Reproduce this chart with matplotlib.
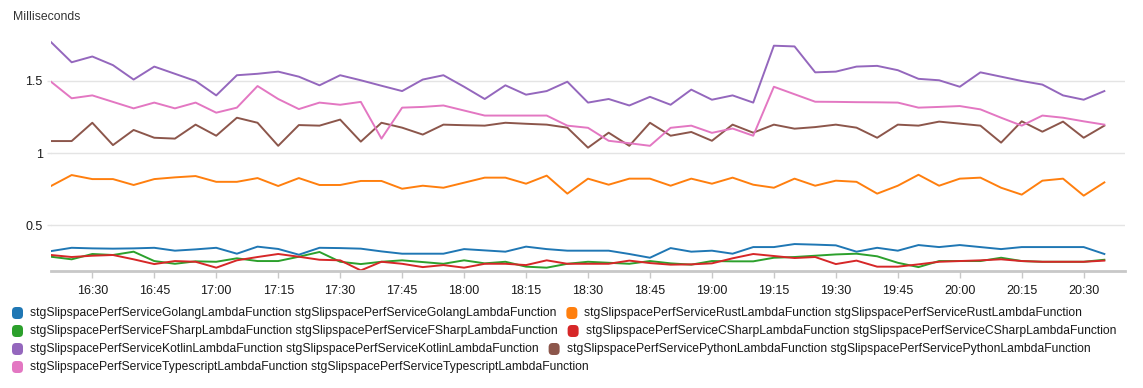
import matplotlib
matplotlib.use('Agg')
import matplotlib.pyplot as plt
import matplotlib.dates as mdates
from matplotlib.patches import FancyBboxPatch
from matplotlib.transforms import IdentityTransform
import pandas as pd

# 5 minute samples, 16:20 -> 20:35
times = pd.date_range('2021-01-01 16:20', periods=52, freq='5min')

golang = [0.319, 0.342, 0.338, 0.336, 0.338, 0.342, 0.322, 0.331, 0.342, 0.301,
          0.350, 0.334, 0.294, 0.342, 0.340, 0.336, 0.317, 0.301, 0.301, 0.301,
          0.333, 0.324, 0.315, 0.350, 0.333, 0.322, 0.322, 0.322, 0.299, 0.273,
          0.340, 0.315, 0.322, 0.301, 0.347, 0.347, 0.368, 0.364, 0.359, 0.315,
          0.342, 0.322, 0.361, 0.347, 0.361, 0.347, 0.333, 0.347, 0.347, 0.347,
          0.347, 0.299]
rust = [0.771, 0.847, 0.819, 0.819, 0.778, 0.819, 0.831, 0.840, 0.800, 0.800,
        0.826, 0.771, 0.826, 0.778, 0.778, 0.806, 0.806, 0.752, 0.773, 0.759,
        0.794, 0.829, 0.829, 0.787, 0.843, 0.718, 0.822, 0.780, 0.822, 0.822,
        0.773, 0.822, 0.787, 0.829, 0.780, 0.759, 0.822, 0.773, 0.808, 0.800,
        0.718, 0.773, 0.849, 0.773, 0.822, 0.829, 0.759, 0.711, 0.808, 0.822,
        0.704, 0.796]
fsharp = [0.280, 0.262, 0.299, 0.292, 0.315, 0.250, 0.231, 0.248, 0.245, 0.269,
          0.250, 0.250, 0.280, 0.313, 0.245, 0.229, 0.245, 0.255, 0.243, 0.231,
          0.255, 0.234, 0.245, 0.211, 0.204, 0.231, 0.245, 0.238, 0.231, 0.250,
          0.234, 0.225, 0.250, 0.248, 0.248, 0.273, 0.278, 0.287, 0.296, 0.301,
          0.283, 0.238, 0.208, 0.250, 0.250, 0.250, 0.273, 0.250, 0.245, 0.245,
          0.245, 0.259]
csharp = [0.292, 0.278, 0.287, 0.292, 0.262, 0.229, 0.250, 0.245, 0.204, 0.255,
          0.278, 0.299, 0.280, 0.259, 0.255, 0.185, 0.245, 0.231, 0.208, 0.222,
          0.204, 0.231, 0.231, 0.222, 0.255, 0.231, 0.231, 0.231, 0.253, 0.236,
          0.225, 0.227, 0.234, 0.269, 0.299, 0.285, 0.271, 0.278, 0.229, 0.253,
          0.211, 0.211, 0.227, 0.245, 0.250, 0.255, 0.262, 0.250, 0.245, 0.245,
          0.245, 0.253]
kotlin = [1.77, 1.63, 1.67, 1.61, 1.51, 1.60, 1.55, 1.50, 1.40, 1.54,
          1.55, 1.565, 1.53, 1.47, 1.54, 1.505, 1.467, 1.43, 1.51, 1.54,
          1.46, 1.375, 1.47, 1.405, 1.43, 1.495, 1.35, 1.375, 1.33, 1.39,
          1.335, 1.44, 1.37, 1.40, 1.35, 1.745, 1.74, 1.56, 1.565, 1.60,
          1.605, 1.575, 1.515, 1.505, 1.46, 1.56, 1.53, 1.50, 1.475, 1.40,
          1.37, 1.43]
python = [1.083, 1.083, 1.21, 1.055, 1.16, 1.106, 1.10, 1.197, 1.12, 1.245,
          1.21, 1.05, 1.194, 1.19, 1.232, 1.079, 1.21, 1.176, 1.128, 1.197,
          1.193, 1.19, 1.21, 1.203, 1.197, 1.176, 1.037, 1.141, 1.05, 1.21,
          1.12, 1.146, 1.085, 1.197, 1.141, 1.197, 1.169, 1.18, 1.197, 1.176,
          1.106, 1.197, 1.19, 1.218, 1.204, 1.19, 1.072, 1.22, 1.148, 1.218,
          1.106, 1.19]
typescript = [1.495, 1.38, 1.40, 1.355, 1.31, 1.35, 1.31, 1.35, 1.28, 1.315,
              1.465, 1.375, 1.305, 1.35, 1.335, 1.355, 1.10, 1.315, 1.32, 1.33,
              1.295, 1.26, 1.26, 1.26, 1.26, 1.19, 1.175, 1.085, 1.068, 1.05,
              1.175, 1.19, 1.14, 1.17, 1.12, 1.46, 1.408, 1.356, 1.355, 1.353,
              1.352, 1.35, 1.315, 1.32, 1.326, 1.303, 1.245, 1.19, 1.26, 1.245,
              1.22, 1.197]

names = ['Golang', 'Rust', 'FSharp', 'CSharp', 'Kotlin', 'Python', 'Typescript']
colors = ['#1f77b4', '#ff7f0e', '#2ca02c', '#d62728', '#9467bd', '#8c564b', '#e377c2']
values = [golang, rust, fsharp, csharp, kotlin, python, typescript]

plt.rcParams['font.family'] = ['Liberation Sans', 'DejaVu Sans']

W, H = 1143, 388
fig = plt.figure(figsize=(W / 100, H / 100), dpi=100)
fig.patch.set_facecolor('white')
ax = fig.add_axes([51 / W, 1 - 270.7 / H, (1125 - 51) / W, (270.7 - 30) / H])

for name, c, v in zip(names, colors, values):
    ax.plot(times, v, color=c, linewidth=1.4)

ax.set_ylim(0.183, 1.854)
ax.set_xlim(pd.Timestamp('2021-01-01 16:20'), pd.Timestamp('2021-01-01 20:40'))
ax.set_yticks([0.5, 1, 1.5])
ax.set_yticklabels(['0.5', '1', '1.5'])
ax.xaxis.set_major_locator(mdates.MinuteLocator(byminute=[0, 15, 30, 45]))
ax.xaxis.set_major_formatter(mdates.DateFormatter('%H:%M'))

ax.grid(axis='y', color='#e4e4e4', linewidth=1)
ax.set_axisbelow(True)
for s in ['top', 'right', 'left']:
    ax.spines[s].set_visible(False)
ax.spines['bottom'].set_color('#c8c8c8')
ax.spines['bottom'].set_linewidth(2)
ax.tick_params(axis='x', colors='#c8c8c8', length=5, width=1, pad=5,
               labelcolor='#1a1a1a', labelsize=9)
ax.tick_params(axis='y', colors='#e4e4e4', length=3, width=1, pad=3,
               labelcolor='#1a1a1a', labelsize=9)

fig.text(13 / W, 1 - 17 / H, 'Milliseconds', fontsize=8.8, color='#333333',
         va='center', ha='left')

# flowing legend below the plot
renderer = fig.canvas.get_renderer()
rows = [[0, 1], [2, 3], [4, 5], [6]]
for r, row in enumerate(rows):
    x = 12
    yc = H - (313 + r * 18)
    for i in row:
        box = FancyBboxPatch((x, yc - 6), 11, 12,
                             boxstyle='round,pad=0,rounding_size=4',
                             transform=IdentityTransform(),
                             facecolor=colors[i], edgecolor='none')
        fig.add_artist(box)
        label = f'stgSlipspacePerfService{names[i]}LambdaFunction'
        t = fig.text((x + 18) / W, yc / H, label + ' ' + label, fontsize=8.75,
                     color='#1a1a1a', va='center', ha='left')
        bb = t.get_window_extent(renderer)
        x = bb.x1 + 10

fig.savefig('out.png', dpi=100)
